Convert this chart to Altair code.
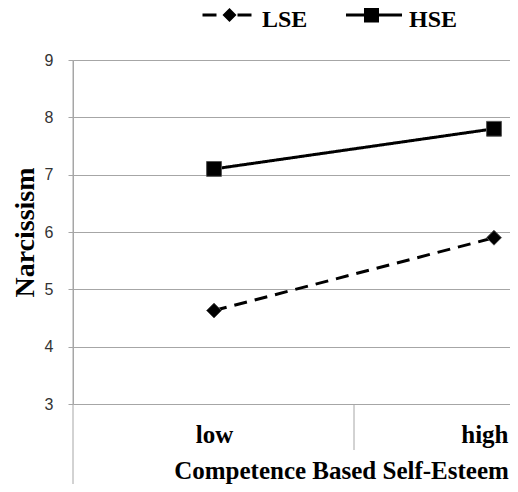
import altair as alt
import pandas as pd

levels = ["low", "high"]
series = ["LSE", "HSE"]
lse_values = [4.63, 5.90]
hse_values = [7.10, 7.80]
y_ticks = [3, 4, 5, 6, 7, 8, 9]

rows = []
for lv, v in zip(levels, lse_values):
    rows.append({"level": lv, "series": "LSE", "value": v})
for lv, v in zip(levels, hse_values):
    rows.append({"level": lv, "series": "HSE", "value": v})
df = pd.DataFrame(rows)

W, H = 437, 344
BOTTOM = 80
GRID = "#a6a6a6"
SERIF = "Liberation Serif"

LSE_PATH = ("M-1.633,-0.433H-0.7V-0.233H-1.633Z "
            "M-0.3,-0.333L0.167,-0.8L0.633,-0.333L0.167,0.133Z "
            "M0.7,-0.433H1.633V-0.233H0.7Z")
HSE_PATH = "M-1.867,-0.433H1.867V-0.233H-1.867Z M-0.667,-0.833H0.333V0.167H-0.667Z"

xscale = alt.Scale(type="point", domain=levels, padding=0.2804, align=0.8981)
xenc = alt.X("level:N", scale=xscale, sort=levels,
             axis=alt.Axis(title="Competence Based Self-Esteem", domain=False, ticks=False, tickSize=0,
                           labelFont=SERIF, labelFontWeight="bold", labelFontSize=25, labelColor="black",
                           labelBaseline="alphabetic", labelPadding=38, labelAngle=0,
                           labelAlign={"condition": {"test": "datum.value === 'high'", "value": "right"},
                                       "value": "center"},
                           labelOffset={"condition": {"test": "datum.value === 'high'", "value": 14},
                                        "value": 0},
                           titleFont=SERIF, titleFontWeight="bold", titleFontSize=25, titleColor="black",
                           titleX=268, titleY=74, titleBaseline="alphabetic", titleAlign="center"))
yenc = alt.Y("value:Q", scale=alt.Scale(domain=[3, 9], nice=False, zero=False),
             axis=alt.Axis(title="Narcissism", values=y_ticks, grid=True, gridColor=GRID, gridWidth=1,
                           domainColor=GRID, tickColor=GRID, tickSize=5,
                           labelFont="Liberation Sans", labelFontSize=16, labelColor="#333", labelPadding=15,
                           labelAlign="right",
                           titleFont=SERIF, titleFontWeight="bold", titleFontSize=28, titleColor="black",
                           titleX=-40, titleY=172, titleBaseline="alphabetic", titleAlign="center",
                           titleAngle=-90))

lines = alt.Chart(df).mark_line(color="black", strokeWidth=3).encode(
    x=xenc, y=yenc,
    detail="series:N",
    strokeDash=alt.StrokeDash("series:N", scale=alt.Scale(domain=series, range=[[13, 8], [1, 0]]), legend=None),
)

points = alt.Chart(df).mark_point(filled=True, color="black", stroke="#555", strokeWidth=1, opacity=1, size=220).encode(
    x=xenc, y=yenc,
    shape=alt.Shape("series:N", scale=alt.Scale(domain=series, range=["diamond", "square"]), legend=None),
)

legend_layer = alt.Chart(df).mark_point(filled=True, color="black", opacity=0).encode(
    x=xenc, y=yenc,
    shape=alt.Shape("series:N", scale=alt.Scale(domain=series, range=[LSE_PATH, HSE_PATH]),
                    legend=alt.Legend(title=None, orient="none", legendX=139, legendY=-55, direction="horizontal",
                                      symbolSize=900, symbolOpacity=1, symbolFillColor="black",
                                      symbolStrokeWidth=0, labelFont=SERIF, labelFontWeight="bold",
                                      labelFontSize=24, labelColor="black", labelOffset=20, columnPadding=37,
                                      padding=0)),
)

one = pd.DataFrame({"a": [0]})
axis_ext = alt.Chart(one).mark_rule(color=GRID, strokeWidth=1).encode(
    x=alt.value(0), y=alt.value(0), y2=alt.value(H + BOTTOM))
divider = alt.Chart(one).mark_rule(color=GRID, strokeWidth=1).encode(
    x=alt.value(281), y=alt.value(H), y2=alt.value(H + 46))

chart = alt.layer(axis_ext, divider, lines, points, legend_layer).resolve_scale(shape="independent").properties(
    width=W, height=H, autosize=alt.AutoSizeParams(type="none"),
    padding={"left": 65, "top": 52, "right": 0, "bottom": BOTTOM},
).configure_view(stroke=None)

chart.save("out.html", embed_options={"renderer": "svg", "actions": False})
